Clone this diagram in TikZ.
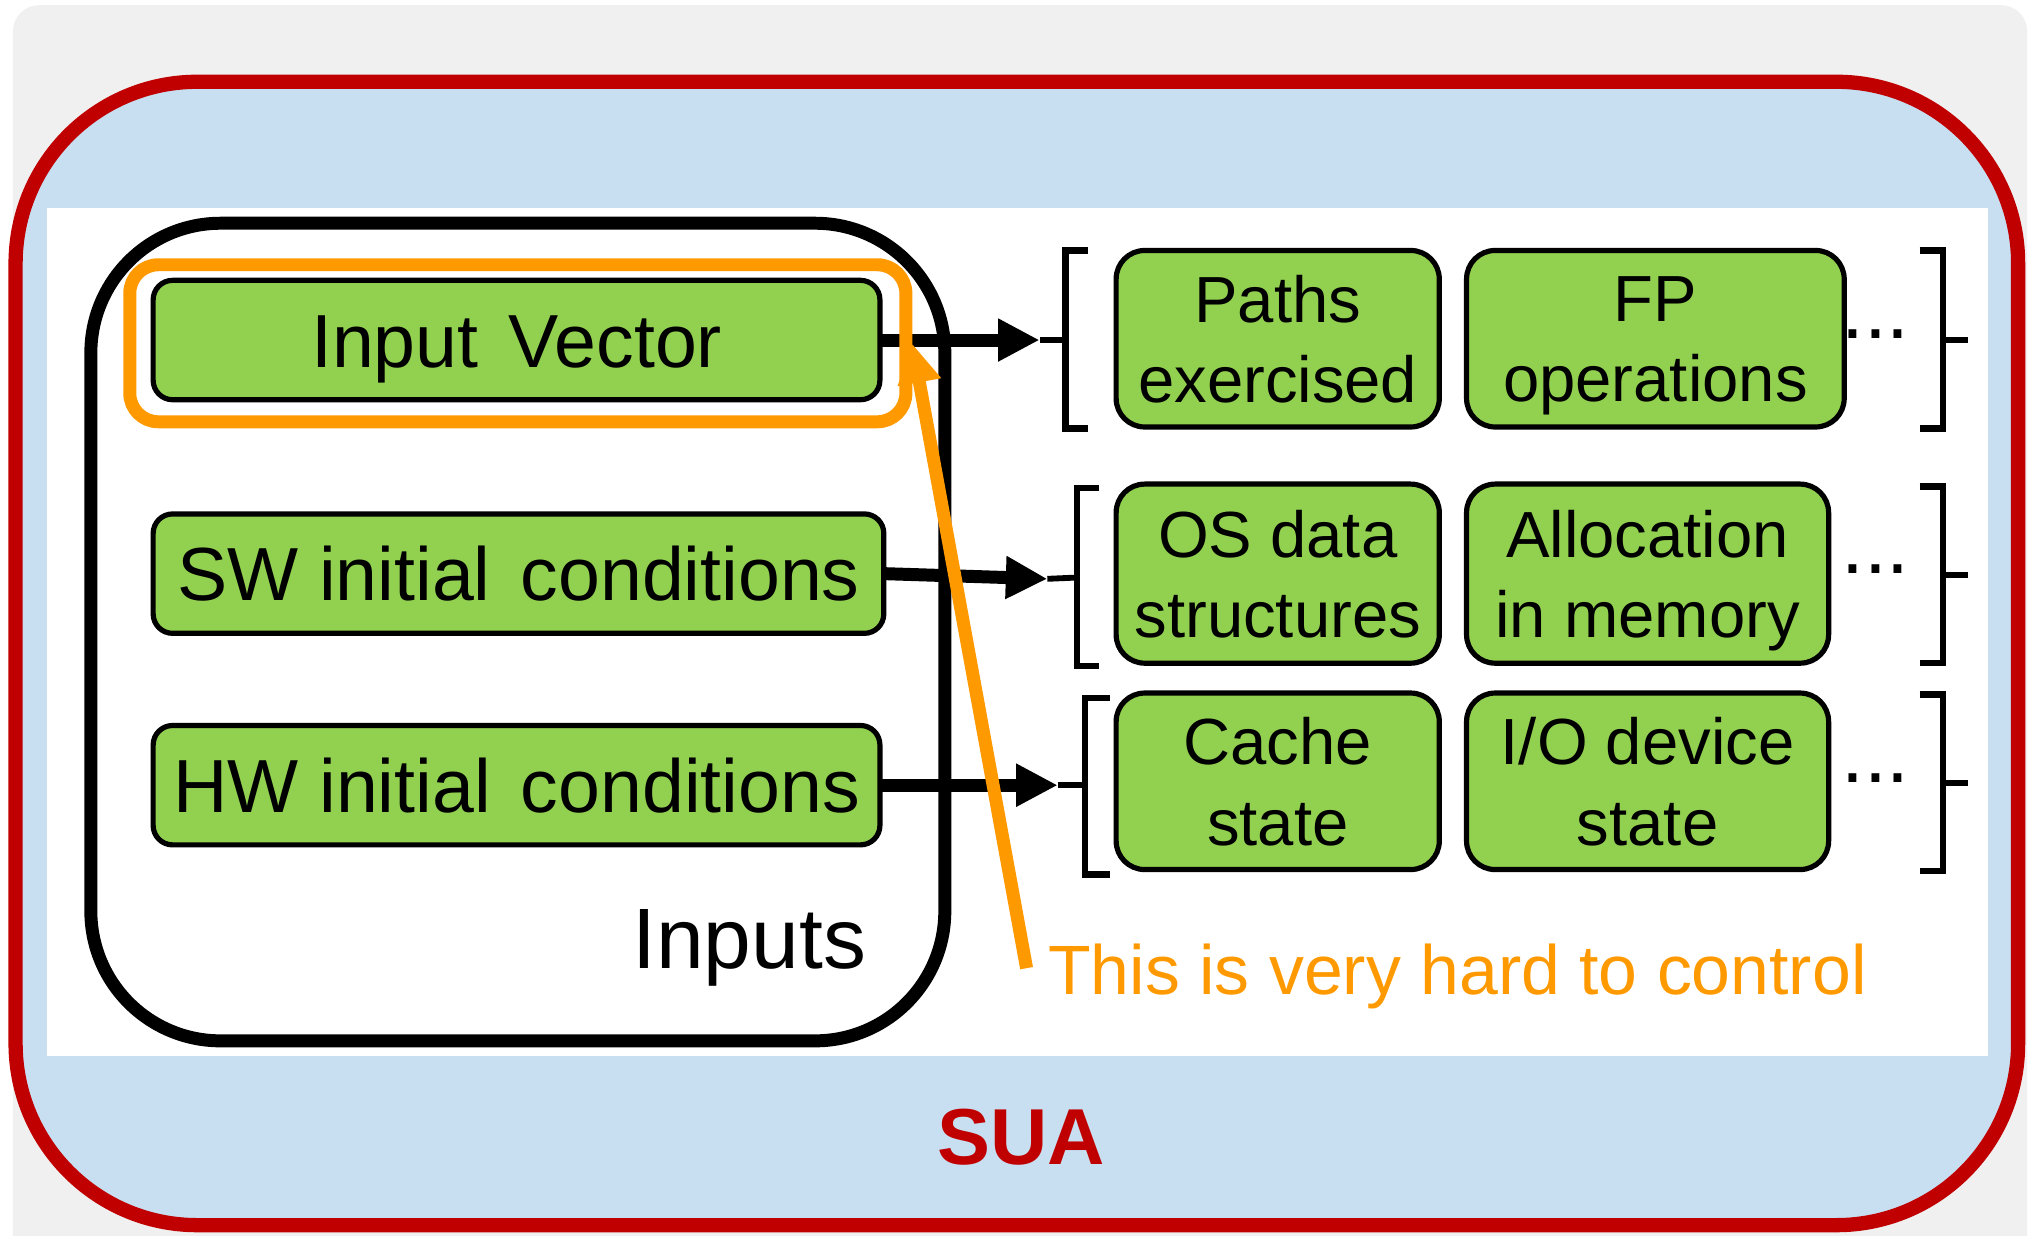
\documentclass[tikz,border=0pt]{standalone}
\usepackage{fontspec}
\setmainfont{Liberation Sans}
\usetikzlibrary{arrows.meta}
\definecolor{sgreen}{HTML}{92D050}
\definecolor{sred}{HTML}{C00000}
\definecolor{sblue}{HTML}{C8DFF1}
\definecolor{sorange}{HTML}{FF9900}
\definecolor{sgray}{HTML}{F0F0F0}
\newcommand{\nd}[1]{\raisebox{0pt}[\height][0pt]{#1}}
\newcommand{\wsp}{\hspace{0.4em}}
\tikzset{
  lbox/.style={draw=black, fill=sgreen, line width=0.4mm, rounded corners=1.5mm,
    inner sep=0pt, outer sep=0pt, minimum height=9.2mm, text height=4.2mm, text depth=0mm,
    font=\fontsize{16.5}{20}\selectfont},
  rbox/.style={draw=black, fill=sgreen, line width=0.4mm, rounded corners=2.2mm,
    inner sep=0pt, outer sep=0pt, minimum height=13.6mm, align=center,
    font=\fontsize{14.3}{17.6}\selectfont},
  arr/.style={line width=1mm, -{Triangle[length=3.2mm,width=3.1mm]}},
  brk/.style={line width=0.5mm},
  tick/.style={line width=0.45mm},
  dotlbl/.style={anchor=base west, inner sep=0pt, font=\fontsize{18}{20}\selectfont},
}
\begin{document}
\begin{tikzpicture}[x=0.1mm, y=-0.1mm]
\useasboundingbox (0,0) rectangle (1568,952);
% background
\fill[sgray, rounded corners=2mm] (10,4) rectangle (1562,990);
% SUA box
\node[draw=sred, fill=sblue, line width=1.1mm, rounded corners=14mm, inner sep=0pt,
  minimum width=154.3mm, minimum height=88.1mm] (sua) at (783.5,503.5) {};
\fill[white] (36,160) rectangle (1532,814);
% inputs container
\node[draw=black, line width=1mm, rounded corners=10mm, inner sep=0pt,
  minimum width=65.8mm, minimum height=63mm] (inputs) at (399,487) {};
\node[anchor=base east, inner sep=0pt, font=\fontsize{18.8}{22}\selectfont] (inlbl) at (668,746) {Inputs};
% left boxes
\node[lbox, minimum width=56mm] (iv) at (398,262) {Input\wsp Vector};
\node[lbox, minimum width=56.3mm] (sw) at (399.5,442) {SW initial\wsp conditions};
\node[lbox, minimum width=56mm] (hw) at (398,605) {HW initial\wsp conditions};
% arrow end coordinates
\coordinate (t1) at (801,262);
\coordinate (t2) at (807,446);
\coordinate (t3) at (815,605);
\draw[arr] (iv.east) -- (t1);
\draw[arr] (sw.east) -- (t2);
\draw[arr] (hw.east) -- (t3);
% brackets row 1
\draw[brk] (838,193) -- (821,193) -- (821,330) -- (838,330);
\draw[tick] (821,262) -- (t1);
\draw[brk] (1479,193) -- (1497,193) -- (1497,330) -- (1479,330);
\draw[tick] (1497,262) -- (1516,262);
% brackets row 2
\draw[brk] (847,376) -- (830,376) -- (830,513) -- (847,513);
\draw[tick] (830,445) -- (t2);
\draw[brk] (1479,375) -- (1497,375) -- (1497,511) -- (1479,511);
\draw[tick] (1497,443) -- (1516,443);
% brackets row 3
\draw[brk] (855,538) -- (836,538) -- (836,674) -- (855,674);
\draw[tick] (836,605) -- (t3);
\draw[brk] (1479,535) -- (1497,535) -- (1497,671) -- (1479,671);
\draw[tick] (1497,603) -- (1516,603);
% right boxes
\node[rbox, minimum width=24.9mm] (paths) at (984.5,261) {\vphantom{A}Paths\\\nd{exercised}};
\node[rbox, minimum width=29.1mm] (fp) at (1275.5,261) {\vphantom{A}FP\\\nd{operations}};
\node[rbox, minimum width=24.9mm, minimum height=13.8mm] (os) at (984.5,442) {\vphantom{A}OS data\\\nd{structures}};
\node[rbox, minimum width=27.9mm, minimum height=13.8mm] (alloc) at (1269.5,442) {\vphantom{A}Allocation\\\nd{in memory}};
\node[rbox, minimum width=24.9mm] (cache) at (984.5,602) {\vphantom{A}Cache\\\nd{state}};
\node[rbox, minimum width=27.9mm] (io) at (1269.5,602) {\vphantom{A}I/O device\\\nd{state}};
% dots
\node[dotlbl] (d1) at (1418,261) {...};
\node[dotlbl] (d2) at (1418,442) {...};
\node[dotlbl] (d3) at (1418,603) {...};
% SUA label
\node[anchor=base, inner sep=0pt, text=sred, font=\bfseries\fontsize{17.4}{20}\selectfont] (sualbl) at (787,897) {SUA};
% highlight
\node[draw=sorange, line width=1mm, rounded corners=2.2mm, inner sep=0pt,
  minimum width=59.8mm, minimum height=12.1mm] (hl) at (399,264.5) {};
\node[anchor=base west, inner sep=0pt, text=sorange, font=\fontsize{15.3}{18}\selectfont] (note) at (807,766) {This is very hard to control};
\coordinate (ostart) at (791,746);
\coordinate (otip) at (703,265);
\draw[sorange, line width=1mm, -{Triangle[length=3mm,width=3.2mm]}] (ostart) -- (otip);
\end{tikzpicture}
\end{document}
